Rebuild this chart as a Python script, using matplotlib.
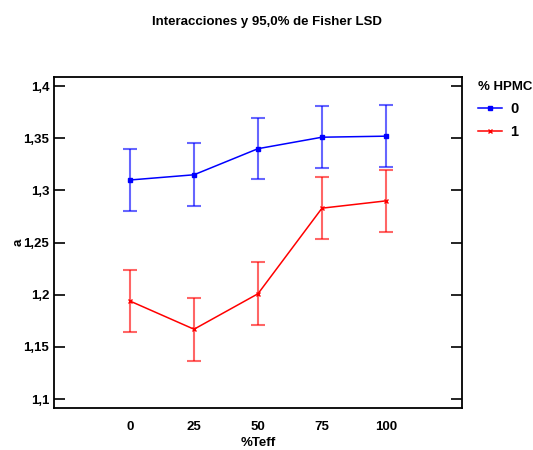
import matplotlib.pyplot as plt
from matplotlib.ticker import FuncFormatter

teff = [0, 25, 50, 75, 100]
hpmc_0 = [1.310, 1.315, 1.340, 1.351, 1.352]
hpmc_0_err = [0.0295, 0.030, 0.0295, 0.0295, 0.030]
hpmc_1 = [1.194, 1.167, 1.201, 1.283, 1.290]
hpmc_1_err = [0.0295, 0.030, 0.030, 0.030, 0.030]
y_ticks = [1.1, 1.15, 1.2, 1.25, 1.3, 1.35, 1.4]

plt.rcParams['font.family'] = ['Liberation Sans', 'DejaVu Sans']
plt.rcParams['font.weight'] = 'bold'
plt.rcParams['axes.labelweight'] = 'bold'

fig = plt.figure(figsize=(5.33, 4.5), dpi=100)
ax = fig.add_axes([0.1013, 0.0933, 0.7655, 0.7363])

for vals, errs, col, mk, lab in [(hpmc_0, hpmc_0_err, '#0000ff', 's', '0'),
                                 (hpmc_1, hpmc_1_err, '#ff0000', 'x', '1')]:
    ax.errorbar(teff, vals, yerr=errs, fmt='none', ecolor=col, alpha=0.6,
                elinewidth=1.5, capsize=4.7, capthick=1.5)
    ax.plot(teff, vals, color=col, marker=mk, markersize=3.2, lw=1.1, label=lab)

ax.set_xlim(-29.7, 129.7)
ax.set_ylim(1.0915, 1.409)
ax.set_xticks(teff)
ax.set_yticks(y_ticks)
ax.yaxis.set_major_formatter(FuncFormatter(lambda v, p: ('%g' % v).replace('.', ',')))
ax.tick_params(axis='y', direction='in', length=8, width=1.2, right=True, labelsize=9.5)
ax.tick_params(axis='x', length=0, labelsize=9.5, pad=9)
for s in ax.spines.values():
    s.set_linewidth(1.3)

ax.set_xlabel('%Teff', fontsize=9.5, labelpad=3, fontweight='bold')
ax.set_ylabel('a', fontsize=9.5, labelpad=-1, fontweight='bold')
fig.suptitle('Interacciones y 95,0% de Fisher LSD', fontsize=9.5, y=0.965, x=0.5, fontweight='bold')

leg = ax.legend(title='% HPMC', loc='upper left', bbox_to_anchor=(1.039, 0.986),
                frameon=False, fontsize=10.5, title_fontsize=9.5, handlelength=1.65,
                borderaxespad=0, borderpad=0, labelspacing=0.6, handletextpad=0.55)
leg.get_title().set_fontweight('bold')
leg._legend_box.align = 'left'

fig.savefig('out.png', dpi=100)
